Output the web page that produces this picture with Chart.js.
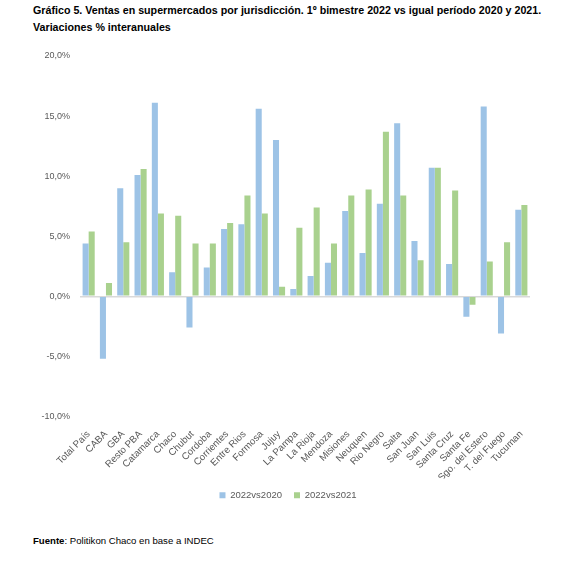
<!DOCTYPE html>
<html>
<head>
<meta charset="utf-8">
<script src="https://cdn.jsdelivr.net/npm/chart.js@4"></script>
<style>
  body { margin: 0; background: #fff; font-family: "Liberation Sans", Arial, sans-serif; }
  #page { position: relative; width: 576px; height: 563px; }
  #title { position: absolute; left: 33px; top: 2px; font-weight: bold; font-size: 10.7px; line-height: 17px; color: #000; white-space: nowrap; }
  #wrap { position: absolute; left: 0; top: 40px; width: 576px; height: 470px; }
  #fuente { position: absolute; left: 33px; top: 535px; font-size: 9.6px; color: #000; white-space: nowrap; }
</style>
</head>
<body>
<div id="page">
  <div id="title">Gráfico 5. Ventas en supermercados por jurisdicción. 1º bimestre 2022 vs igual período 2020 y 2021.<br>Variaciones % interanuales</div>
  <div id="wrap"><canvas id="chart"></canvas></div>
  <div id="fuente"><b>Fuente</b>: Politikon Chaco en base a INDEC</div>
</div>
<script>
const jurisdicciones = ["Total País", "CABA", "GBA", "Resto PBA", "Catamarca", "Chaco", "Chubut", "Cordoba",
  "Corrientes", "Entre Rios", "Formosa", "Jujuy", "La Pampa", "La Rioja", "Mendoza", "Misiones", "Neuquen",
  "Rio Negro", "Salta", "San Juan", "San Luis", "Santa Cruz", "Santa Fe", "Sgo. del Estero", "T. del Fuego", "Tucuman"];
const vs2020 = [4.4, -5.2, 9.0, 10.1, 16.1, 2.0, -2.6, 2.4, 5.6, 6.0, 15.6, 13.0, 0.6, 1.7, 2.8, 7.1, 3.6,
  7.7, 14.4, 4.6, 10.7, 2.7, -1.7, 15.8, -3.1, 7.2];
const vs2021 = [5.4, 1.1, 4.5, 10.6, 6.9, 6.7, 4.4, 4.4, 6.1, 8.4, 6.9, 0.8, 5.7, 7.4, 4.4, 8.4, 8.9,
  13.7, 8.4, 3.0, 10.7, 8.8, -0.7, 2.9, 4.5, 7.6];

const gris = '#595959';

new Chart(document.getElementById('chart'), {
  type: 'bar',
  data: {
    labels: jurisdicciones,
    datasets: [{
      label: '2022vs2020',
      data: vs2020,
      backgroundColor: '#9dc3e6',
      categoryPercentage: 0.7,
      barPercentage: 1.0,
    }, {
      label: '2022vs2021',
      data: vs2021,
      backgroundColor: '#a9d18e',
      categoryPercentage: 0.7,
      barPercentage: 1.0,
    }],
  },
  options: {
    responsive: true,
    maintainAspectRatio: false,
    animation: false,
    layout: { padding: { top: 16, left: 0, right: 0, bottom: 0 } },
    plugins: {
      legend: {
        position: 'bottom',
        labels: {
          boxWidth: 6,
          boxHeight: 6,
          padding: 12,
          color: gris,
          font: { family: 'Liberation Sans', size: 9.5 },
        },
      },
      tooltip: { enabled: false },
    },
    scales: {
      x: {
        grid: { display: false },
        border: { display: false },
        ticks: {
          color: gris,
          font: { family: 'Liberation Sans', size: 9.7 },
          minRotation: 45,
          maxRotation: 45,
          autoSkip: false,
          padding: 4,
        },
        afterFit: s => { s.height = 62; },
      },
      y: {
        min: -10,
        max: 20,
        border: { display: false },
        grid: {
          drawTicks: false,
          lineWidth: 1.5,
          color: c => c.tick && c.tick.value === 0 ? '#d9d9d9' : 'rgba(0,0,0,0)',
        },
        ticks: {
          stepSize: 5,
          color: gris,
          padding: 10,
          font: { family: 'Liberation Sans', size: 9 },
          callback: v => v.toFixed(1).replace('.', ',') + '%',
        },
        afterFit: s => { s.width = 80; },
      },
      // empty right margin so the legend stays centred on the page
      margen: {
        type: 'linear',
        position: 'right',
        border: { display: false },
        grid: { display: false },
        ticks: { display: false },
        afterFit: s => { s.width = 46; },
      },
    },
  },
});
</script>
</body>
</html>
